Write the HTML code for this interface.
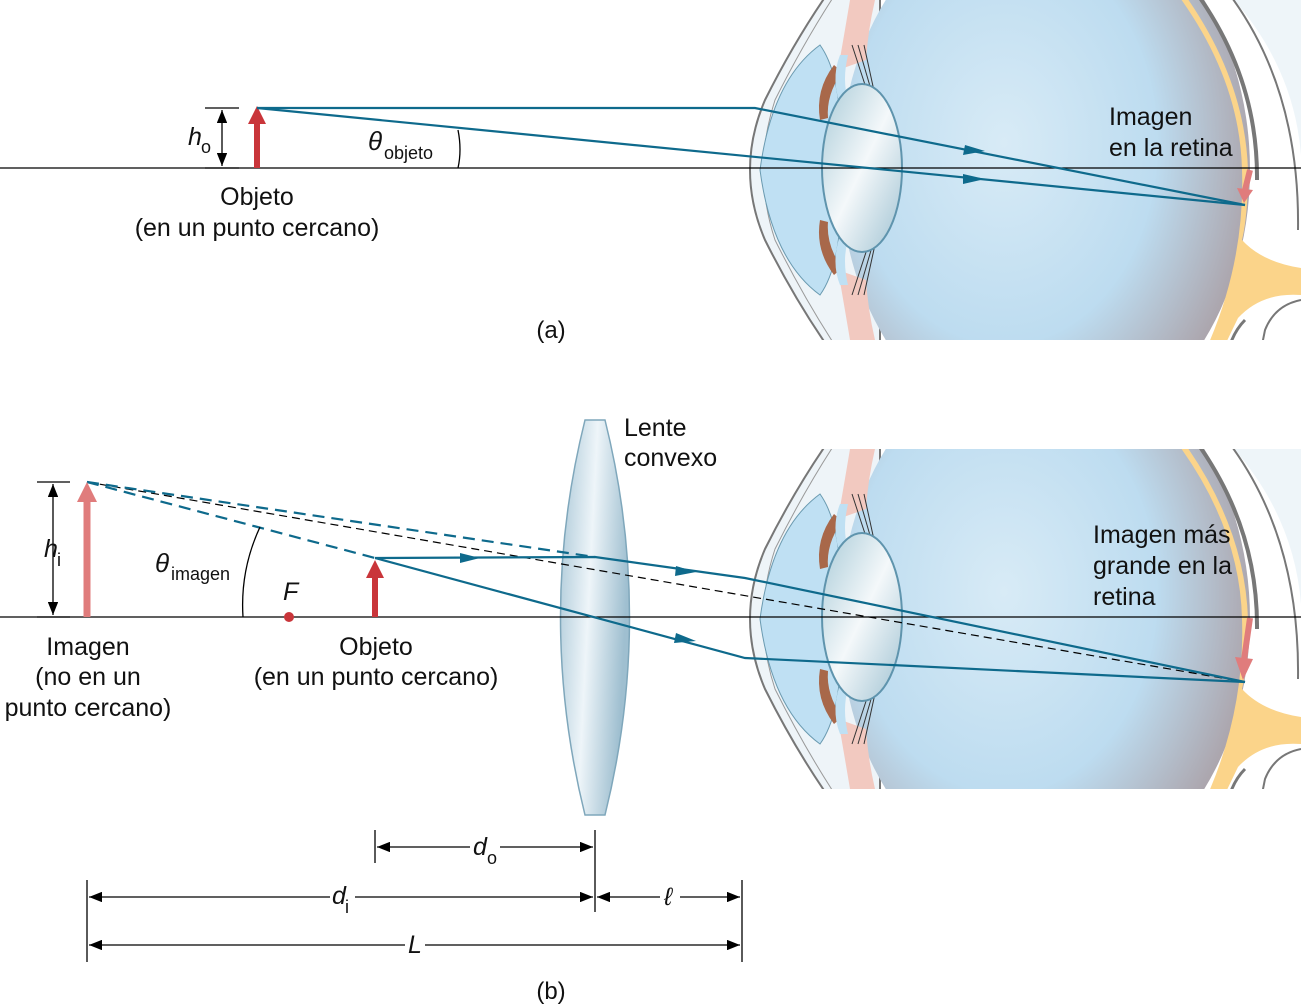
<!DOCTYPE html>
<html><head><meta charset="utf-8"><style>
html,body{margin:0;padding:0;background:#fff}
svg{display:block}
text{font-family:"Liberation Sans",sans-serif;fill:#111}
</style></head><body>
<svg width="1301" height="1007" viewBox="0 0 1301 1007">
<defs>
<radialGradient id="vit" cx="0.4" cy="0.45" r="0.62">
<stop offset="0" stop-color="#d8ebf6"/><stop offset="0.6" stop-color="#bddcf0"/><stop offset="1" stop-color="#aba3aa"/></radialGradient>
<linearGradient id="lensg" x1="0" y1="0" x2="1" y2="1">
<stop offset="0" stop-color="#a9cbd8"/><stop offset="0.5" stop-color="#f4f8fa"/><stop offset="1" stop-color="#9fc2d2"/></linearGradient>
<linearGradient id="biglens" x1="0" y1="0" x2="1" y2="0.3">
<stop offset="0" stop-color="#a8c6d6"/><stop offset="0.5" stop-color="#eef5f9"/><stop offset="1" stop-color="#9fbfd0"/></linearGradient>
<clipPath id="ec"><rect x="740" y="0" width="561" height="340"/></clipPath>
<marker id="ak" markerWidth="10" markerHeight="8" refX="10" refY="4" orient="auto-start-reverse"><path d="M0,0 L10,4 L0,8 Z" fill="#000"/></marker>
<g id="eye" clip-path="url(#ec)">
<path d="M1225,-10 Q1310,80 1301,200 L1301,-10Z" fill="#eef5f9"/>
<path d="M1230,-5 Q1300,90 1298,230" fill="none" stroke="#777" stroke-width="2"/>
<path d="M1301,300 Q1275,305 1265,330 L1262,345" fill="none" stroke="#777" stroke-width="2"/>
<path d="M830,-10 Q795,40 765,100 Q735,170 765,240 Q795,300 830,350 L880,350 L880,-10Z" fill="#eef4f8" stroke="#777" stroke-width="2"/>
<path d="M838,-10 Q805,40 775,100 Q752,170 775,240 Q805,300 838,350" fill="none" stroke="#999" stroke-width="1"/>
<ellipse cx="1045" cy="170" rx="205" ry="270" fill="url(#vit)"/>
<path d="M1185,-5 Q1245,80 1248,170 Q1248,215 1242,240 Q1262,262 1301,268 L1301,295 Q1262,292 1238,318 L1225,345 L1208,345 Q1245,260 1242,170 Q1240,80 1178,-5Z" fill="#fbd48a"/>
<path d="M1198,-5 Q1258,80 1257,180" fill="none" stroke="#777" stroke-width="4"/>
<path d="M1245,320 Q1235,330 1230,345" fill="none" stroke="#777" stroke-width="3"/>
<path d="M850,0 Q845,30 838,70 L866,60 Q868,30 875,0Z" fill="#f2c9c0"/>
<path d="M850,340 Q845,310 838,270 L866,280 Q868,310 875,340Z" fill="#f2c9c0"/>
<g stroke="#333" stroke-width="1"><line x1="852" y1="45" x2="870" y2="100"/><line x1="858" y1="45" x2="874" y2="100"/><line x1="864" y1="45" x2="876" y2="100"/><line x1="852" y1="295" x2="870" y2="240"/><line x1="858" y1="295" x2="874" y2="240"/><line x1="864" y1="295" x2="876" y2="240"/></g>
<path d="M820,45 Q772,80 760,170 Q772,260 820,295 Q845,260 840,170 Q845,80 820,45Z" fill="#bfe0f3" stroke="#6a9ab0" stroke-width="1"/>
<path d="M834,65 Q815,90 820,120 L828,118 Q826,95 842,72Z" fill="#a8684a"/>
<path d="M834,275 Q815,250 820,220 L828,222 Q826,245 842,268Z" fill="#a8684a"/>
<path d="M840,55 Q830,80 842,110 L848,100 Q842,80 848,55Z" fill="#bfe0f3"/>
<path d="M840,285 Q830,260 842,230 L848,240 Q842,260 848,285Z" fill="#bfe0f3"/>
<ellipse cx="862" cy="168" rx="40" ry="84" fill="url(#lensg)" stroke="#5f94ad" stroke-width="2"/>
</g>
</defs>

<!-- Part (a) -->
<g>
<use href="#eye"/>
<line x1="0" y1="168" x2="1301" y2="168" stroke="#000" stroke-width="1.3"/>
<line x1="257" y1="168" x2="257" y2="120" stroke="#c9353a" stroke-width="6"/>
<path d="M248,124 L257,106 L266,124Z" fill="#c9353a"/>
<path d="M1250,170 L1245,190" stroke="#e07c7c" stroke-width="6"/><path d="M1237,188 L1244,203 L1253,190Z" fill="#e07c7c"/>
<polyline points="257,108 755,108 1245,205" fill="none" stroke="#0e6a8c" stroke-width="2.2"/>
<line x1="257" y1="108" x2="1245" y2="205" stroke="#0e6a8c" stroke-width="2.2"/>
<path d="M965,145 L985,151 L963,155Z" fill="#0e6a8c"/><path d="M963,174 L985,179 L963,184Z" fill="#0e6a8c"/>
<line x1="222" y1="110" x2="222" y2="166" stroke="#000" stroke-width="1.3" marker-start="url(#ak)" marker-end="url(#ak)"/>
<line x1="205" y1="108" x2="239" y2="108" stroke="#000" stroke-width="1.3"/>
<line x1="205" y1="168" x2="239" y2="168" stroke="#000" stroke-width="1.3"/>
<text x="188" y="145" font-size="25" font-style="italic">h</text><text x="201" y="153" font-size="18">o</text>
<path d="M458,130 Q462,150 458,168" fill="none" stroke="#000" stroke-width="1.3"/>
<text x="368" y="150" font-size="26" font-style="italic">θ</text><text x="384" y="159" font-size="18">objeto</text>
<text x="257" y="205" font-size="25" text-anchor="middle">Objeto</text>
<text x="257" y="236" font-size="25" text-anchor="middle">(en un punto cercano)</text>
<text x="1109" y="125" font-size="25">Imagen</text>
<text x="1109" y="156" font-size="25">en la retina</text>
<text x="551" y="338" font-size="24" text-anchor="middle">(a)</text>
</g>

<!-- Part (b) -->
<g>
<use href="#eye" y="449"/>
<path d="M585,420 L605,420 Q654,617 605,815 L585,815 Q536,617 585,420Z" fill="url(#biglens)" stroke="#7fa7bb" stroke-width="1.5"/>
<line x1="0" y1="617" x2="1301" y2="617" stroke="#000" stroke-width="1.3"/>
<line x1="87" y1="482" x2="1245" y2="682" stroke="#000" stroke-width="1.2" stroke-dasharray="8,5"/>
<line x1="87" y1="482" x2="595" y2="557" stroke="#0e6a8c" stroke-width="2.2" stroke-dasharray="12,7"/>
<line x1="87" y1="482" x2="375" y2="558" stroke="#0e6a8c" stroke-width="2.2" stroke-dasharray="12,7"/>
<polyline points="375,558 595,557 745,578 1245,682" fill="none" stroke="#0e6a8c" stroke-width="2.2"/>
<polyline points="375,558 745,658 1245,682" fill="none" stroke="#0e6a8c" stroke-width="2.2"/>
<path d="M460,553 L480,558 L460,563Z" fill="#0e6a8c"/><path d="M676,566 L696,572 L675,576Z" fill="#0e6a8c"/><path d="M676,633 L696,641 L674,643Z" fill="#0e6a8c"/>
<line x1="375" y1="617" x2="375" y2="574" stroke="#c9353a" stroke-width="6"/>
<path d="M366,578 L375,560 L384,578Z" fill="#c9353a"/>
<line x1="87" y1="617" x2="87" y2="498" stroke="#e07c7c" stroke-width="7"/>
<path d="M77,502 L87,482 L97,502Z" fill="#e07c7c"/>
<path d="M1250,618 L1244,660" stroke="#e07c7c" stroke-width="6"/><path d="M1235,657 L1243,680 L1253,659Z" fill="#e07c7c"/>
<circle cx="289" cy="617" r="5" fill="#c9353a"/>
<text x="283" y="600" font-size="25" font-style="italic">F</text>
<path d="M260,527 Q240,570 243,617" fill="none" stroke="#000" stroke-width="1.3"/>
<text x="155" y="572" font-size="26" font-style="italic">θ</text><text x="171" y="580" font-size="18">imagen</text>
<line x1="53" y1="484" x2="53" y2="615" stroke="#000" stroke-width="1.3" marker-start="url(#ak)" marker-end="url(#ak)"/>
<line x1="37" y1="482" x2="70" y2="482" stroke="#000" stroke-width="1.3"/>
<line x1="37" y1="617" x2="70" y2="617" stroke="#000" stroke-width="1.3"/>
<text x="44" y="557" font-size="25" font-style="italic">h</text><text x="57" y="566" font-size="18">i</text>
<text x="624" y="436" font-size="25">Lente</text><text x="624" y="466" font-size="25">convexo</text>
<text x="1093" y="543" font-size="25">Imagen más</text><text x="1093" y="574" font-size="25">grande en la</text><text x="1093" y="605" font-size="25">retina</text>
<text x="88" y="655" font-size="25" text-anchor="middle">Imagen</text>
<text x="88" y="685" font-size="25" text-anchor="middle">(no en un</text>
<text x="88" y="716" font-size="25" text-anchor="middle">punto cercano)</text>
<text x="376" y="655" font-size="25" text-anchor="middle">Objeto</text>
<text x="376" y="685" font-size="25" text-anchor="middle">(en un punto cercano)</text>
<g stroke="#000" stroke-width="1.3">
<line x1="375" y1="830" x2="375" y2="863"/><line x1="595" y1="830" x2="595" y2="912"/>
<line x1="87" y1="880" x2="87" y2="962"/><line x1="742" y1="880" x2="742" y2="962"/>
<line x1="377" y1="847" x2="470" y2="847" marker-start="url(#ak)"/><line x1="500" y1="847" x2="593" y2="847" marker-end="url(#ak)"/>
<line x1="89" y1="897" x2="330" y2="897" marker-start="url(#ak)"/><line x1="355" y1="897" x2="593" y2="897" marker-end="url(#ak)"/>
<line x1="597" y1="897" x2="660" y2="897" marker-start="url(#ak)"/><line x1="680" y1="897" x2="740" y2="897" marker-end="url(#ak)"/>
<line x1="89" y1="945" x2="405" y2="945" marker-start="url(#ak)"/><line x1="425" y1="945" x2="740" y2="945" marker-end="url(#ak)"/>
</g>
<text x="473" y="855" font-size="25" font-style="italic">d</text><text x="487" y="864" font-size="18">o</text>
<text x="332" y="904" font-size="25" font-style="italic">d</text><text x="345" y="913" font-size="18">i</text>
<text x="664" y="905" font-size="25" font-style="italic">ℓ</text>
<text x="408" y="953" font-size="25" font-style="italic">L</text>
<text x="551" y="999" font-size="24" text-anchor="middle">(b)</text>
</g>
</svg>
</body></html>
